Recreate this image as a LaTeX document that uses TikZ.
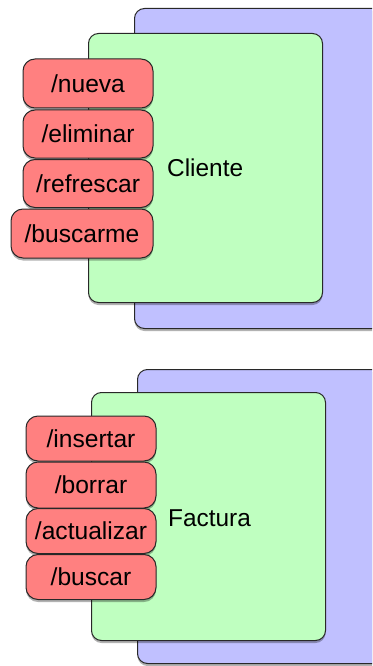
\documentclass[tikz,border=0pt]{standalone}
\usepackage{fontspec}
\setmainfont{Liberation Sans}
\usetikzlibrary{shadows}
\definecolor{backblue}{RGB}{192,192,255}
\definecolor{midgreen}{RGB}{191,255,192}
\definecolor{opred}{RGB}{255,128,128}
\definecolor{edge}{RGB}{40,40,40}
\tikzset{
  softshadow/.style={drop shadow={shadow xshift=0pt, shadow yshift=-2.5pt, opacity=0.3, fill=black}},
  layer/.style={draw=edge, line width=1pt, rounded corners=10pt, inner sep=0pt, anchor=north west},
  backlayer/.style={layer, fill=backblue, softshadow},
  frontlayer/.style={layer, fill=midgreen, softshadow},
  op/.style={draw=edge, line width=1pt, rounded corners=12pt, fill=opred, softshadow,
             inner sep=0pt, text=black, font=\fontsize{24.6}{28}\selectfont},
  label/.style={anchor=west, inner sep=0pt, text=black, font=\fontsize{24.4}{28}\selectfont}
}
\begin{document}
\begin{tikzpicture}[x=1pt,y=-1pt]
  \useasboundingbox (0,0) rectangle (372,666);
  \clip (0,0) rectangle (372,666);

  % upper resource: Cliente
  \node[backlayer, minimum width=256pt, minimum height=320pt] (cliback) at (134,8) {};
  \node[frontlayer, minimum width=234pt, minimum height=269pt] (clifront) at (88,33) {};
  \node[label] (cliente) at (167,168) {Cliente};
  \node[op, minimum width=130pt, minimum height=49pt] (nueva) at (88,83.5) {/nueva};
  \node[op, minimum width=130pt, minimum height=48pt] (eliminar) at (88,134) {/eliminar};
  \node[op, minimum width=130pt, minimum height=48pt] (refrescar) at (88,183.5) {/refrescar};
  \node[op, minimum width=142pt, minimum height=49pt] (buscarme) at (82,233.5) {/buscarme};

  % lower resource: Factura
  \node[backlayer, minimum width=253pt, minimum height=294pt] (facback) at (137,369) {};
  \node[frontlayer, minimum width=234pt, minimum height=248pt] (facfront) at (91,392) {};
  \node[label] (factura) at (168,518) {Factura};
  \node[op, minimum width=130pt, minimum height=45pt] (insertar) at (91,438.5) {/insertar};
  \node[op, minimum width=130pt, minimum height=46pt] (borrar) at (91,485) {/borrar};
  \node[op, minimum width=130pt, minimum height=45pt] (actualizar) at (91,531) {/actualizar};
  \node[op, minimum width=130pt, minimum height=45pt] (buscar) at (91,577) {/buscar};
\end{tikzpicture}
\end{document}
